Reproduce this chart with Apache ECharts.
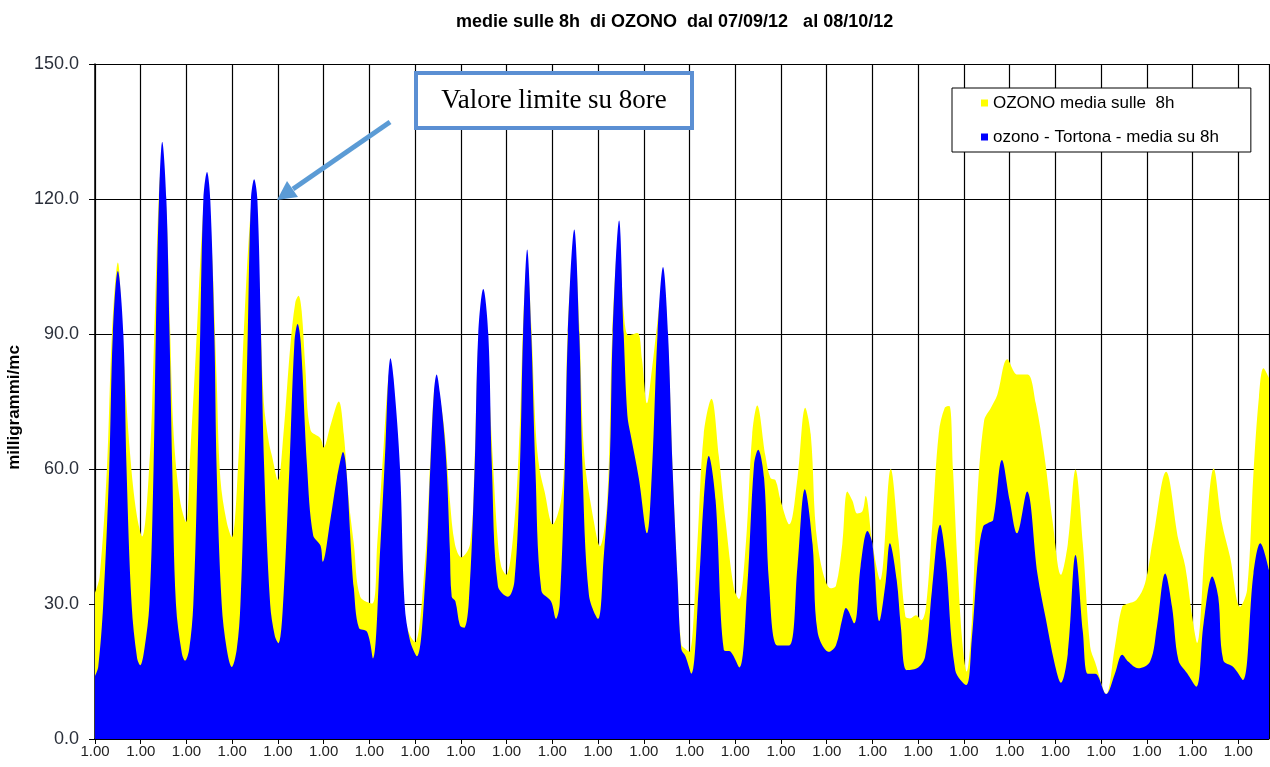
<!DOCTYPE html>
<html lang="it">
<head>
    <meta charset="UTF-8">
    <title>medie sulle 8h di OZONO</title>
    <script src="https://cdn.jsdelivr.net/npm/echarts@6.0.0/dist/echarts.min.js"></script>
    <style>
        * { margin: 0; padding: 0; box-sizing: border-box; }
        body { background: #fff; }
        #chart { width: 1270px; height: 767px; }
    </style>
</head>
<body>
    <div id="chart"></div>

    <script>
        // giorni dal 07/09 (1 unita = 1 giorno), valori medie su 8h
        const dayLabel = '1.00';
        const yTicks = [0, 30, 60, 90, 120, 150];

        const ozonoDays = [
            0.00, 0.10, 0.26, 0.37, 0.50, 0.62, 0.77, 0.91, 1.03, 1.20,
            1.28, 1.40, 1.47, 1.56, 1.64, 1.72, 1.86, 1.99, 2.08, 2.20,
            2.37, 2.45, 2.55, 2.66, 2.74, 2.88, 2.99, 3.14, 3.26, 3.41,
            3.48, 3.58, 3.69, 3.80, 3.87, 4.00, 4.12, 4.27, 4.38, 4.45,
            4.52, 4.60, 4.71, 4.93, 5.00, 5.15, 5.33, 5.44, 5.55, 5.66,
            5.80, 6.06, 6.17, 6.31, 6.41, 6.46, 6.53, 6.67, 6.78, 6.89,
            7.00, 7.22, 7.33, 7.41, 7.47, 7.54, 7.65, 7.76, 7.87, 8.01,
            8.20, 8.30, 8.38, 8.49, 8.58, 8.70, 8.80, 8.88, 8.99, 9.17,
            9.29, 9.36, 9.45, 9.54, 9.64, 9.72, 9.83, 10.01, 10.19, 10.27,
            10.34, 10.48, 10.59, 10.70, 10.91, 11.04, 11.20, 11.31, 11.46, 11.56,
            11.67, 11.86, 11.96, 12.07, 12.18, 12.29, 12.42, 12.53, 12.63, 12.74,
            12.82, 12.91, 13.00, 13.17, 13.31, 13.48, 13.64, 13.79, 13.97, 14.08,
            14.23, 14.37, 14.48, 14.66, 14.77, 14.88, 14.99, 15.18, 15.36, 15.53,
            15.65, 15.80, 16.09, 16.20, 16.34, 16.45, 16.56, 16.67, 16.78, 16.85,
            17.00, 17.17, 17.40, 17.57, 17.72, 17.82, 17.95, 18.07, 18.17, 18.31,
            18.45, 18.58, 18.68, 18.76, 18.85, 18.96, 19.06, 19.17, 19.28, 19.44,
            19.59, 19.73, 19.95, 20.17, 20.39, 20.57, 20.76, 20.94, 21.12, 21.27,
            21.44, 21.60, 21.76, 21.87, 22.11, 22.30, 22.46, 22.59, 22.77, 22.96,
            23.13, 23.42, 23.69, 23.84, 23.99, 24.10, 24.28, 24.46, 24.64, 24.82,
            25.04, 25.19, 25.33, 25.45, 25.55, 25.70
        ];
        const ozonoValues = [
            32.5, 36, 60, 90, 105.9, 86, 63, 50, 45, 63,
            85, 122, 128, 118, 92, 67.7, 53, 48.2, 63, 85,
            118, 122, 110, 80, 58, 48.2, 44.8, 63, 92, 118,
            120, 105, 75, 66, 62.9, 57.5, 67.7, 87.3, 97, 98.5,
            95, 82.4, 68.7, 66.8, 64.8, 69.7, 75, 67.7, 53, 43.3,
            31.6, 30.1, 43.3, 65, 80, 82, 78, 55, 27, 23,
            21.5, 40, 62, 77, 79, 76, 67.7, 53, 43.3, 40.4,
            43.3, 62, 88, 97, 85, 62, 45, 38.4, 36.5, 48.2,
            70, 92, 106, 92, 68, 60, 55, 47.7, 53, 65,
            92, 110, 92, 62.9, 48.2, 42.8, 53, 90, 112, 95,
            89.7, 90.2, 84.4, 74.6, 82.4, 92, 102, 88, 60, 35,
            21, 20, 19.4, 43.3, 67.7, 75.6, 62.9, 48.2, 33.5, 31.1,
            43.3, 67.7, 74.1, 62.9, 58, 57.5, 53, 47.7, 58, 73.6,
            67.7, 43.3, 33.5, 34, 43.3, 55, 53, 50.1, 50.6, 54,
            43.3, 35.3, 60, 44.2, 27.2, 26.8, 27.5, 26.4, 29.4, 48,
            68, 73.6, 74, 60, 40.5, 22, 15, 25.7, 51.6, 70.7,
            73.6, 76.5, 84.4, 81, 81, 74.6, 62.9, 48.2, 36.5, 43.3,
            59.9, 43.3, 20.5, 17, 10, 20.5, 29.4, 30.1, 30.9, 34.6,
            44.2, 59.4, 44.2, 38.3, 27.2, 21.3, 44.2, 60.1, 48, 40.4,
            29.4, 33.1, 59, 76, 82.4, 79.5
        ];

        const tortonaDays = [
            0.00, 0.07, 0.18, 0.31, 0.39, 0.50, 0.62, 0.69, 0.80, 0.92,
            0.99, 1.08, 1.19, 1.28, 1.33, 1.40, 1.47, 1.56, 1.63, 1.69,
            1.77, 1.90, 1.97, 2.06, 2.15, 2.24, 2.30, 2.37, 2.45, 2.52,
            2.61, 2.66, 2.77, 2.88, 2.99, 3.10, 3.18, 3.27, 3.34, 3.41,
            3.48, 3.55, 3.63, 3.70, 3.83, 3.93, 4.01, 4.10, 4.25, 4.36,
            4.43, 4.50, 4.64, 4.77, 4.93, 4.98, 5.15, 5.29, 5.42, 5.66,
            5.77, 5.95, 6.08, 6.24, 6.35, 6.41, 6.46, 6.53, 6.67, 6.77,
            6.89, 7.04, 7.22, 7.33, 7.41, 7.47, 7.54, 7.62, 7.69, 7.76,
            7.80, 7.88, 7.98, 8.07, 8.17, 8.30, 8.38, 8.49, 8.60, 8.68,
            8.81, 9.03, 9.17, 9.29, 9.36, 9.45, 9.54, 9.63, 9.76, 9.97,
            10.08, 10.16, 10.27, 10.34, 10.48, 10.59, 10.66, 10.80, 11.00, 11.12,
            11.25, 11.32, 11.46, 11.56, 11.64, 11.71, 11.89, 12.07, 12.18, 12.30,
            12.42, 12.53, 12.63, 12.74, 12.82, 12.91, 13.04, 13.20, 13.31, 13.42,
            13.57, 13.75, 13.90, 14.09, 14.26, 14.41, 14.50, 14.63, 14.74, 14.92,
            15.18, 15.36, 15.52, 15.69, 15.80, 16.05, 16.20, 16.34, 16.42, 16.60,
            16.74, 16.89, 17.00, 17.15, 17.29, 17.38, 17.53, 17.62, 17.75, 17.97,
            18.15, 18.30, 18.48, 18.60, 18.81, 19.05, 19.17, 19.31, 19.42, 19.53,
            19.64, 19.83, 20.00, 20.16, 20.38, 20.61, 20.79, 20.98, 21.12, 21.27,
            21.44, 21.60, 21.71, 21.87, 22.11, 22.30, 22.46, 22.59, 22.81, 23.07,
            23.22, 23.40, 23.55, 23.69, 23.88, 24.08, 24.24, 24.43, 24.56, 24.67,
            24.89, 25.10, 25.33, 25.48, 25.70
        ];
        const tortonaValues = [
            14, 16, 30, 60, 90, 104, 90, 60, 30, 18,
            16.4, 20, 30, 60, 90, 120, 132.7, 120, 90, 60,
            30, 19, 17.4, 20, 30, 60, 90, 120, 126, 120,
            90, 60, 30, 20, 16, 20, 30, 60, 90, 120,
            124.4, 120, 90, 60, 30, 23, 21.3, 28, 60, 88,
            92.2, 88, 60, 45.3, 43, 39.4, 49, 58, 63.8, 33.5,
            24.7, 23.8, 17.9, 43, 65, 80, 84.6, 80, 60, 30,
            21.8, 18.4, 35, 60, 77, 81, 77, 69.7, 60, 42,
            31.6, 30.6, 25.2, 24.7, 30, 60, 90, 100, 90, 60,
            34, 31.6, 35, 60, 90, 108.8, 90, 60, 33, 30.6,
            26.7, 30, 60, 90, 113.2, 90, 60, 32, 26.7, 40,
            60, 90, 115.2, 90, 72, 67.7, 58, 45.7, 60, 90,
            104.9, 90, 60, 35, 20, 18.4, 14.5, 33.5, 53, 62.9,
            53, 19.8, 19.4, 15.9, 33.5, 61, 64.3, 58, 34.5, 20.8,
            20.8, 38.4, 55.5, 43.3, 23.8, 19.4, 20.8, 26.7, 29.1, 25.7,
            38.4, 46.2, 43.3, 26.2, 35, 43.5, 35.3, 25, 15.3, 15.7,
            18.3, 33, 47.6, 40, 15.3, 12, 22, 40.5, 47.2, 48,
            48.7, 62, 53, 45.7, 55, 36.5, 26.7, 16.9, 12.5, 18.9,
            40.9, 23.8, 14.5, 14.5, 10, 14.5, 18.7, 17.2, 15.7, 17.2,
            25, 36.8, 29.4, 17.5, 14.6, 11.6, 25.7, 36.1, 31.6, 17.5,
            16, 13.1, 36.8, 43.5, 36.1
        ];

        const ozonoData = ozonoDays.map((d, i) => [d, ozonoValues[i]]);
        const tortonaData = tortonaDays.map((d, i) => [d, tortonaValues[i]]);

        const chart = echarts.init(document.getElementById('chart'));

        const option = {
            animation: false,
            backgroundColor: '#fff',
            textStyle: { fontFamily: 'Liberation Sans, Arial, sans-serif' },
            title: {
                text: 'medie sulle 8h  di OZONO  dal 07/09/12   al 08/10/12',
                left: 456,
                top: 13,
                padding: 0,
                textStyle: { fontSize: 18, fontWeight: 'bold', color: '#000' }
            },
            legend: {
                left: 952,
                top: 88,
                orient: 'vertical',
                icon: 'rect',
                itemWidth: 7,
                itemHeight: 7,
                itemGap: 17,
                padding: [6.5, 32, 6.5, 29],
                borderColor: '#000',
                borderWidth: 1,
                backgroundColor: '#fff',
                textStyle: { fontSize: 17, color: '#000' },
                data: ['OZONO media sulle  8h', 'ozono - Tortona - media su 8h']
            },
            grid: { left: 95, right: 1, top: 64, bottom: 28, outerBoundsMode: 'none' },
            xAxis: {
                type: 'value',
                min: 0,
                max: 25.67,
                interval: 1,
                axisLine: { lineStyle: { color: '#000', width: 1.5 } },
                axisTick: { show: true, length: 5, lineStyle: { color: '#000' } },
                axisLabel: {
                    formatter: () => dayLabel,
                    showMaxLabel: false,
                    fontSize: 15,
                    color: '#222',
                    margin: 5
                },
                splitLine: { show: true, lineStyle: { color: '#000', width: 1.2 } }
            },
            yAxis: {
                type: 'value',
                min: yTicks[0],
                max: yTicks[yTicks.length - 1],
                interval: 30,
                name: 'milligrammi/mc',
                nameLocation: 'middle',
                nameGap: 70,
                nameTextStyle: { fontSize: 17, fontWeight: 'bold', color: '#000', padding: [0, 12, 0, 0] },
                axisLine: { show: true, lineStyle: { color: '#000', width: 1.5 } },
                axisTick: { show: true, length: 6, lineStyle: { color: '#000' } },
                axisLabel: {
                    formatter: v => v.toFixed(1),
                    fontSize: 18,
                    color: '#2a2f3a',
                    margin: 16
                },
                splitLine: { show: true, lineStyle: { color: '#000', width: 1.2 } }
            },
            series: [
                {
                    name: 'OZONO media sulle  8h',
                    type: 'line',
                    data: ozonoData,
                    smooth: 0.35,
                    showSymbol: false,
                    color: '#ffff00',
                    lineStyle: { width: 0 },
                    areaStyle: { color: '#ffff00', opacity: 1 },
                    z: 2
                },
                {
                    name: 'ozono - Tortona - media su 8h',
                    type: 'line',
                    data: tortonaData,
                    smooth: 0.35,
                    showSymbol: false,
                    color: '#0000ff',
                    lineStyle: { width: 0 },
                    areaStyle: { color: '#0000ff', opacity: 1 },
                    z: 3
                }
            ],
            graphic: [
                // riquadro "Valore limite"
                {
                    type: 'rect',
                    shape: { x: 416, y: 73, width: 276, height: 55 },
                    style: { fill: '#fff', stroke: '#5b8fd3', lineWidth: 4 },
                    z: 10
                },
                {
                    type: 'text',
                    x: 554,
                    y: 101,
                    style: {
                        text: 'Valore limite su 8ore',
                        font: '27px "Liberation Serif", "Times New Roman", serif',
                        fill: '#000',
                        align: 'center',
                        verticalAlign: 'middle'
                    },
                    z: 11
                },
                // freccia
                {
                    type: 'line',
                    shape: { x1: 390, y1: 122, x2: 293, y2: 189 },
                    style: { stroke: '#5b9bd5', lineWidth: 5 },
                    z: 10
                },
                {
                    type: 'polygon',
                    shape: { points: [[277, 200], [298, 197], [287, 181]] },
                    style: { fill: '#5b9bd5' },
                    z: 10
                }
            ]
        };

        chart.setOption(option);
    </script>
</body>
</html>
